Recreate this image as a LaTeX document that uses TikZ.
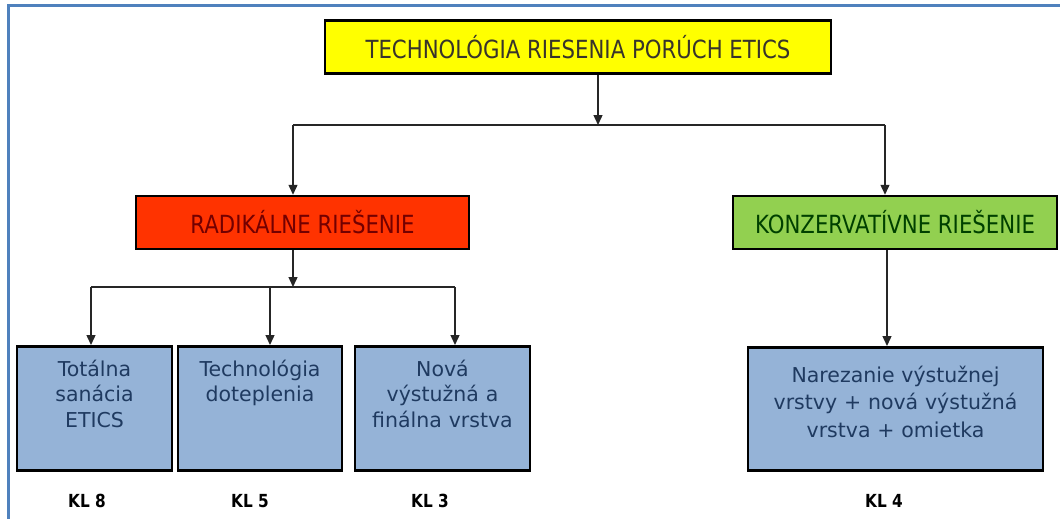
\documentclass[tikz,border=0pt]{standalone}
\usepackage{fontspec}
\setmainfont{DejaVu Sans}
\newfontfamily\narrowfont[FakeStretch=0.85]{DejaVu Sans}
\usetikzlibrary{arrows.meta}

\definecolor{frameblue}{HTML}{4F81BD}
\definecolor{headyellow}{HTML}{FFFF00}
\definecolor{headred}{HTML}{FF3300}
\definecolor{headgreen}{HTML}{92D050}
\definecolor{leafblue}{HTML}{95B3D7}
\definecolor{leaftext}{HTML}{1F3A60}

\begin{document}
\begin{tikzpicture}[x=1pt,y=-1pt,
  head/.style={draw=black,line width=2.5pt,inner sep=0pt,minimum height=53pt,
    font=\narrowfont\fontsize{25}{30}\selectfont},
  leaf/.style={draw=black,line width=2.5pt,fill=leafblue,text=leaftext,anchor=north,
    inner xsep=4pt,inner ysep=0pt,align=center,font=\fontsize{20.5}{25.5}\selectfont},
  kl/.style={font=\narrowfont\bfseries\fontsize{18}{20}\selectfont},
  link/.style={draw=black!85,line width=1.4pt},
  >={Triangle[length=10pt,width=9pt]}]

\useasboundingbox[fill=white] (0,0) rectangle (1060,519);
\draw[frameblue,line width=3pt] (8.5,530) -- (8.5,5.5) -- (1070,5.5);

\node[head,fill=headyellow,text=black!80!olive,minimum width=506pt] (top) at (578,47) {TECHNOLÓGIA RIESENIA PORÚCH ETICS};
\node[head,fill=headred,text=red!45!black,minimum width=333pt] (red) at (302.5,222.5) {RADIKÁLNE RIEŠENIE};
\node[head,fill=headgreen,text=green!25!black,minimum width=324pt] (green) at (895,222.5) {KONZERVATÍVNE RIEŠENIE};

\node[leaf,text width=147pt,text height=30pt,text depth=94pt] (b1) at (94.5,345) {Totálna\\sanácia\\ETICS};
\node[leaf,text width=156pt,text height=30pt,text depth=94pt] (b2) at (260,345) {Technológia\\doteplenia};
\node[leaf,text width=167pt,text height=30pt,text depth=94pt] (b3) at (442.5,345) {Nová\\výstužná a\\finálna vrstva};
\node[leaf,text width=287pt,text height=35pt,text depth=88pt,font=\fontsize{20.5}{27.5}\selectfont] (b4) at (895.5,346) {Narezanie výstužnej\\vrstvy + nová výstužná\\vrstva + omietka};

\node[kl] (kl8) at (87,501) {KL 8};
\node[kl] (kl5) at (250,501) {KL 5};
\node[kl] (kl3) at (430,501) {KL 3};
\node[kl] (kl4) at (884,501) {KL 4};

\coordinate (t) at (598,125);
\coordinate (tl) at (293,125);
\coordinate (tr) at (885,125);
\draw[link,->] (top.south -| t) -- (t);
\draw[link] (tl) -- (tr);
\draw[link,->] (tl) -- (tl |- red.north);
\draw[link,->] (tr) -- (tr |- green.north);

\coordinate (r) at (293,287);
\coordinate (rl) at (91,287);
\coordinate (rm) at (270,287);
\coordinate (rr) at (455,287);
\draw[link,->] (red.south -| r) -- (r);
\draw[link] (rl) -- (rr);
\draw[link,->] (rl) -- (rl |- b1.north);
\draw[link,->] (rm) -- (rm |- b2.north);
\draw[link,->] (rr) -- (rr |- b3.north);

\coordinate (g) at (887,0);
\draw[link,->] (green.south -| g) -- (g |- b4.north);

\end{tikzpicture}
\end{document}
